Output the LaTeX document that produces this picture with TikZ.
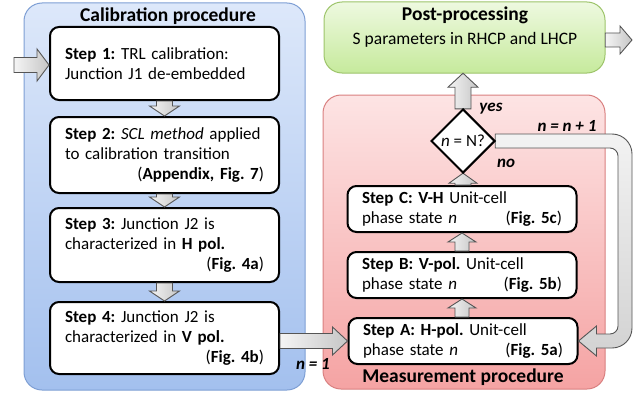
\documentclass[tikz,border=0pt]{standalone}
\usepackage{fontspec}
\setmainfont{Carlito}
\frenchspacing
\usetikzlibrary{shapes.geometric,calc}
\definecolor{bluetop}{HTML}{DDE8FA}
\definecolor{bluebot}{HTML}{A3C0EE}
\definecolor{blueline}{HTML}{7E9FD4}
\definecolor{greentop}{HTML}{EEF9E0}
\definecolor{greenbot}{HTML}{C6EA9C}
\definecolor{greenline}{HTML}{9DC46A}
\definecolor{redtop}{HTML}{FDE4E4}
\definecolor{redbot}{HTML}{F5A3A3}
\definecolor{redline}{HTML}{D98080}
\definecolor{arrline}{HTML}{555555}
\newcommand\rline[1]{\makebox[\linewidth][r]{#1}}
\tikzset{
  panel/.style={rounded corners=18pt, line width=1pt},
  stepbox/.style={draw=black, line width=2pt, fill=white, rounded corners=9pt,
    align=left, font=\fontsize{17}{20}\selectfont\frenchspacing, inner sep=0pt, anchor=center},
  calbox/.style={stepbox, text width=199pt, minimum width=229pt},
  measbox/.style={stepbox, text width=200pt, minimum width=229pt, minimum height=46pt},
  blockarrow/.style={draw=arrline, line width=0.9pt, left color=gray!8, right color=gray!45},
  title/.style={font=\fontsize{19.5}{22}\selectfont\bfseries},
  lbl/.style={font=\fontsize{17}{20}\selectfont\bfseries\itshape}
}
\newcommand\blockarr[6][]{%
  \coordinate (baA) at #2;
  \coordinate (baB) at #3;
  \coordinate (baH) at ($(baB)!#6!(baA)$);
  \path[blockarrow,#1] ($(baA)!#4!90:(baB)$) -- ($(baH)!#4!90:(baB)$) -- ($(baH)!#5!90:(baB)$) -- (baB)
    -- ($(baH)!#5!-90:(baB)$) -- ($(baH)!#4!-90:(baB)$) -- ($(baA)!#4!-90:(baB)$) -- cycle;}
\begin{document}
\begin{tikzpicture}[x=1pt,y=-1pt]
\useasboundingbox (0,0) rectangle (644,396);
% panels
\path[panel, draw=blueline, top color=bluetop, bottom color=bluebot] (24,3) rectangle (305,390);
\path[panel, draw=greenline, top color=greentop, bottom color=greenbot] (324,2) rectangle (605,73);
\path[panel, draw=redline, top color=redtop, bottom color=redbot] (323,95) rectangle (605,389);
\node (green) at (464.5,37.5) [minimum width=281pt, minimum height=71pt] {};
% titles
\node[title] (caltitle) at (168,16) {Calibration procedure};
\node[title] (pptitle) at (465,15) {Post-processing};
\node[font=\fontsize{17.5}{20}\selectfont] (pptext) at (465,40) {S parameters in RHCP and LHCP};
\node[title] (meastitle) at (463,377) {Measurement procedure};
% calibration steps
\node[calbox, minimum height=73pt] (s1) at (164.5,63.5) {\textbf{Step 1:} TRL calibration:\\ Junction J1 de-embedded};
\node[calbox, minimum height=76pt] (s2) at (164.5,155) {\textbf{Step 2:} \textit{SCL method} applied\\ to calibration transition\\ \rline{(\textbf{Appendix, Fig. 7})}};
\node[calbox, minimum height=74pt] (s3) at (164.5,245) {\textbf{Step 3:} Junction J2 is\\ characterized in \textbf{H pol.}\\ \rline{(\textbf{Fig. 4a})}};
\node[calbox, minimum height=72pt] (s4) at (164.5,338) {\textbf{Step 4:} Junction J2 is\\ characterized in \textbf{V pol.}\\ \rline{(\textbf{Fig. 4b})}};
% measurement steps
\node[measbox] (sC) at (462,209) {\textbf{Step C: V-H} Unit-cell\\ \rline{phase state \textit{n}\hfill(\textbf{Fig. 5c})}};
\node[measbox] (sB) at (462,275) {\textbf{Step B: V-pol.} Unit-cell\\ \rline{phase state \textit{n}\hfill(\textbf{Fig. 5b})}};
\node[measbox] (sA) at (463,341) {\textbf{Step A: H-pol.} Unit-cell\\ \rline{phase state \textit{n}\hfill(\textbf{Fig. 5a})}};
\node[diamond, aspect=1, minimum size=64pt, inner sep=0pt] (D) at (463,141) {};
\coordinate (in) at (14,65);
\coordinate (out) at (632,40);
\coordinate (loopx) at (625,0);
% arrows
\blockarr{(in)}{(s1.west |- in)}{7.5pt}{16pt}{12pt}
\blockarr{(s1.south)}{(s2.north)}{8pt}{15pt}{10pt}
\blockarr{(s2.south)}{(s3.north)}{8pt}{15pt}{10pt}
\blockarr{(s3.south)}{(s4.north)}{8pt}{15pt}{10pt}
\blockarr{(s4.east |- sA.west)}{(sA.west)}{7.5pt}{14pt}{15pt}
\blockarr{(sA.north -| sB.south)}{(sB.south)}{7pt}{14pt}{9pt}
\blockarr{(sB.north)}{(sC.south)}{7pt}{14pt}{9pt}
\blockarr{(sC.north -| D.south)}{(D.south)}{8pt}{14pt}{10pt}
\blockarr{(D.north)}{(green.south -| D.north)}{8pt}{15pt}{14pt}
\blockarr{(green.east |- out)}{(out)}{7pt}{14pt}{12pt}
% loop arrow
\path[blockarrow, top color=gray!10, bottom color=gray!35] let \p1=(D.east), \p2=(sA.east), \p3=(loopx) in
  (\x1,\y1+7pt) [rounded corners=20pt] -- (\x3+7pt,\y1+7pt) -- (\x3+7pt,\y2-7pt) [sharp corners]
  -- (\x2+18pt,\y2-7pt) -- (\x2+18pt,\y2-15pt) -- (\x2,\y2) -- (\x2+18pt,\y2+15pt) -- (\x2+18pt,\y2+7pt)
  [rounded corners=8pt] -- (\x3-7pt,\y2+7pt) -- (\x3-7pt,\y1-7pt) [sharp corners] -- (\x1,\y1-7pt) -- cycle;
\node[diamond, aspect=1, draw=black, line width=2pt, fill=white, minimum size=64pt, inner sep=0pt,
  font=\fontsize{17}{20}\selectfont] (Dtext) at (D) {\textit{n} = N?};
% labels
\node[lbl] (yes) at (491,109) {yes};
\node[lbl] (no) at (506,163) {no};
\node[lbl] (inc) at (567,126) {\textit{n} = \textit{n} + 1};
\node[lbl] (n1) at (313,364) {\textit{n} = 1};
\end{tikzpicture}
\end{document}
